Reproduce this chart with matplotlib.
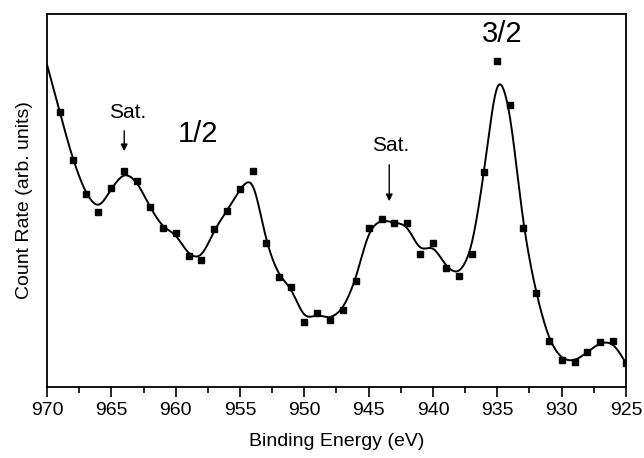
import numpy as np
import matplotlib
matplotlib.use("Agg")
import matplotlib.pyplot as plt
from matplotlib.ticker import MultipleLocator

plt.rcParams['font.family'] = ['Liberation Sans', 'DejaVu Sans']

# measured points (binding energy in eV, count rate in arb. units)
energy = np.arange(969, 924, -1)
counts = [274.7, 227.0, 193.0, 175.3, 198.7, 216.3, 206.3, 179.7, 158.7, 154.3,
          131.0, 127.0, 157.7, 176.3, 198.0, 215.7, 144.3, 110.3, 100.3, 65.3,
          73.7, 67.3, 77.0, 106.0, 159.3, 168.0, 164.0, 163.7, 132.7, 144.3,
          119.3, 111.0, 133.0, 215.0, 326.3, 281.7, 158.7, 93.7, 46.0, 27.0,
          25.3, 34.7, 45.0, 45.7, 23.7]


def smooth(x, y, grid, sigma=0.6):
    # gaussian weighted local linear fit
    x = np.asarray(x, float)
    y = np.asarray(y, float)
    out = []
    for g in grid:
        w = np.exp(-0.5 * ((x - g) / sigma) ** 2)
        xm = np.sum(w * x) / np.sum(w)
        ym = np.sum(w * y) / np.sum(w)
        sxx = np.sum(w * (x - xm) ** 2)
        b = np.sum(w * (x - xm) * (y - ym)) / sxx if sxx > 1e-9 else 0.0
        out.append(ym + b * (g - xm))
    return np.array(out)


grid = np.linspace(970, 925, 901)
fit = smooth(energy, counts, grid)

fig = plt.figure(figsize=(6.44, 4.58), dpi=100)
ax = fig.add_axes([0.073, 0.155, 0.899, 0.8144])

ax.plot(grid, fit, color='black', lw=1.4)
ax.plot(energy, counts, 's', color='black', ms=4)

ax.set_xlim(970, 925)
ax.set_ylim(0, 373)
ax.xaxis.set_major_locator(MultipleLocator(5))
ax.xaxis.set_minor_locator(MultipleLocator(2.5))
ax.tick_params(axis='x', which='major', direction='out', length=7, width=1.2,
               labelsize=14, pad=4)
ax.tick_params(axis='x', which='minor', direction='out', length=4, width=1.2)
ax.set_yticks([])
for s in ax.spines.values():
    s.set_linewidth(1.3)

ax.set_xlabel('Binding Energy (eV)', fontsize=14, labelpad=10)
ax.set_ylabel('Count Rate (arb. units)', fontsize=14, labelpad=10)

arrow = dict(arrowstyle='-|>', color='black', lw=1.0, mutation_scale=10)
ax.text(963.7, 275, 'Sat.', fontsize=15, ha='center', va='center')
ax.annotate('', xy=(964.0, 233), xytext=(964.0, 259), arrowprops=arrow)
ax.text(958.3, 253, '1/2', fontsize=21, ha='center', va='center')
ax.text(943.3, 242, 'Sat.', fontsize=15, ha='center', va='center')
ax.annotate('', xy=(943.4, 183), xytext=(943.4, 225), arrowprops=arrow)
ax.text(934.6, 353, '3/2', fontsize=21, ha='center', va='center')

fig.savefig('out.png', dpi=100)
